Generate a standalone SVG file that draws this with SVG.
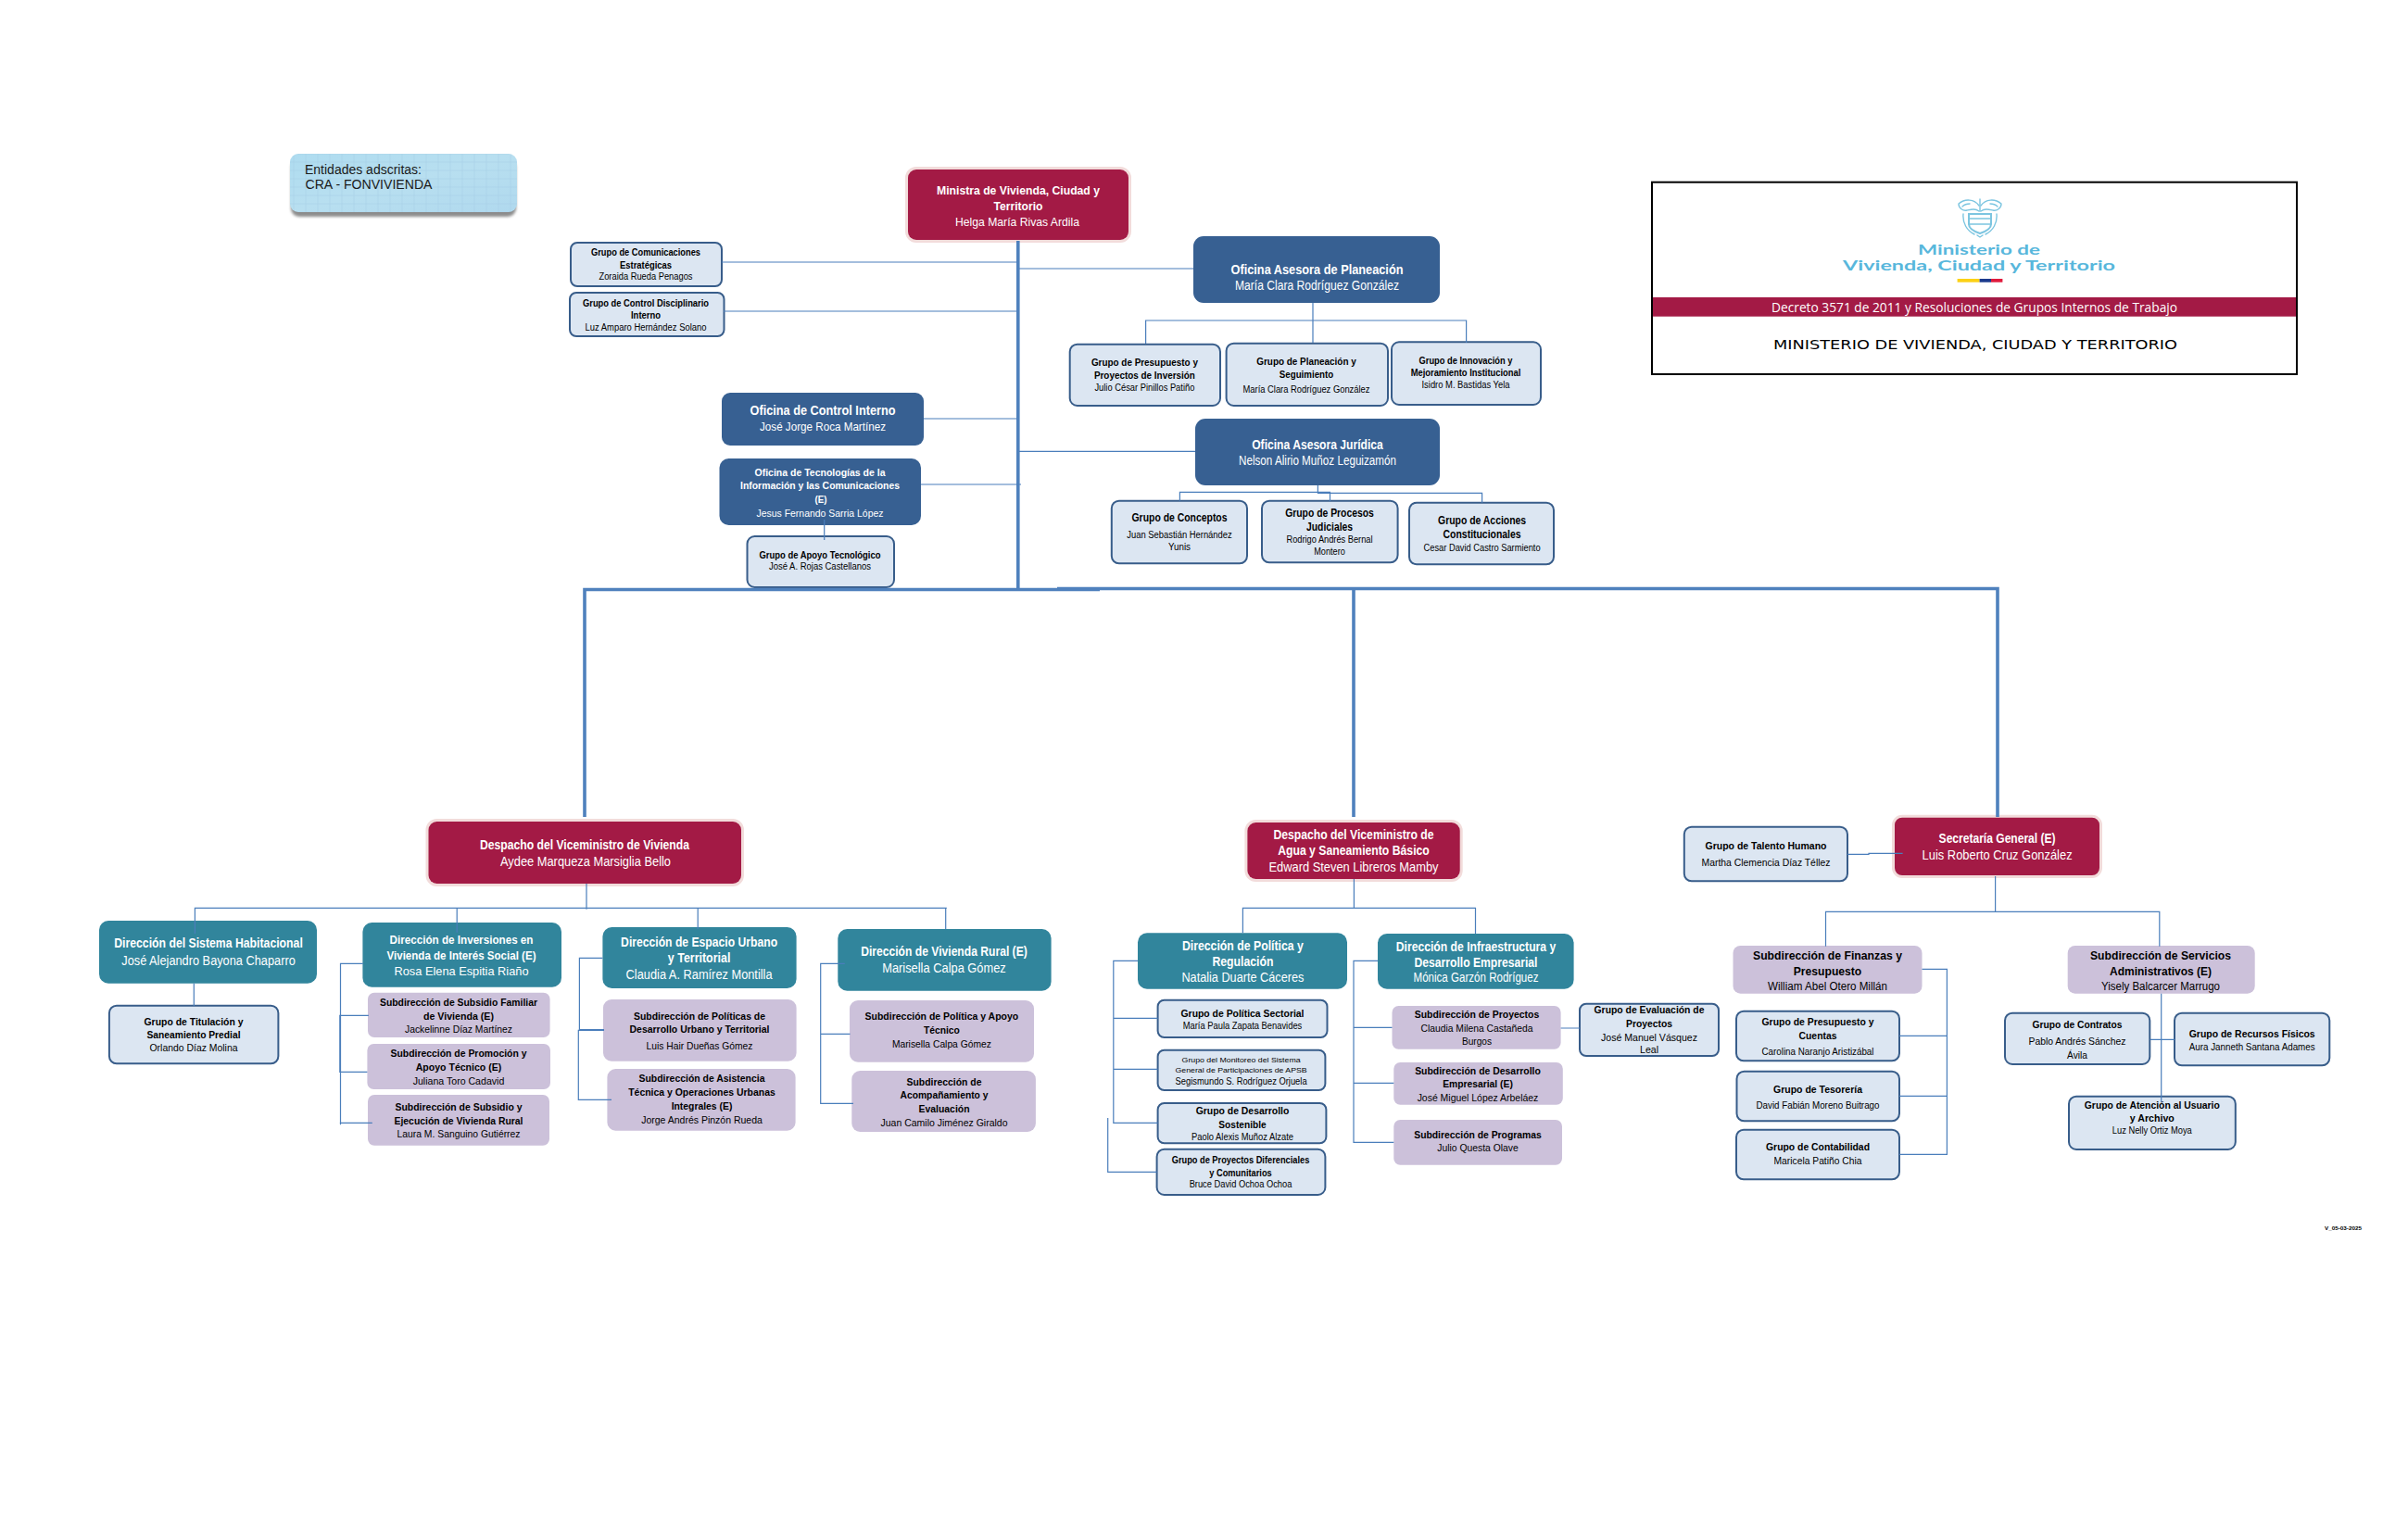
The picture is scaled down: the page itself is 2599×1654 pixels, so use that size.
<svg xmlns="http://www.w3.org/2000/svg" width="2599" height="1654" viewBox="0 0 2599 1654">
<style>
text{font-family:"Liberation Sans",Arial,sans-serif;text-anchor:middle;fill:#000}
.b{font-weight:700}
.w text{fill:#fff}
.s8{font-size:8px}.s9{font-size:9px}.s10{font-size:10px}.s11{font-size:11px}.s12{font-size:12px}.s13{font-size:13px}.s14{font-size:14px}
.red{fill:#a31a45;stroke:#f2dcdb;stroke-width:6;paint-order:stroke}
.blue{fill:#376092}
.teal{fill:#31859c}
.pur{fill:#ccc1da}
.lt{fill:#dce6f2;stroke:#385d8a;stroke-width:2}
.thin{fill:none;stroke:#4a7ebb;stroke-width:1.2}
.thick{fill:none;stroke:#4f81bd;stroke-width:3.6}
.logo{font-family:Lato,"Open Sans",sans-serif;fill:#58b7dc;font-size:16px;font-weight:700}
</style>
<defs>
<linearGradient id="ent" x1="0" y1="0" x2="1" y2="1"><stop offset="0" stop-color="#aedcf0"/><stop offset=".5" stop-color="#b8dff0"/><stop offset="1" stop-color="#b0d9ee"/></linearGradient>
<pattern id="weave" width="13" height="9" patternUnits="userSpaceOnUse"><path d="M0 4H13M5 0V9" stroke="#a2cbe6" stroke-width="1" opacity=".45" fill="none"/></pattern>
<filter id="sh" x="-5%" y="-10%" width="110%" height="130%"><feGaussianBlur stdDeviation="1.8"/></filter>
</defs>
<rect width="2599" height="1654" fill="#fff"/>

<g id="entidades">
<rect x="314" y="172" width="243" height="62" rx="9" fill="#8c8c8c" filter="url(#sh)"/>
<rect x="313" y="166" width="245" height="63" rx="9" fill="url(#ent)"/>
<rect x="313" y="166" width="245" height="63" rx="9" fill="url(#weave)"/>
<text x="392" y="188" class="s14" textLength="126" lengthAdjust="spacingAndGlyphs" style="fill:#1a1a1a">Entidades adscritas:</text>
<text x="398" y="204" class="s14" textLength="137" lengthAdjust="spacingAndGlyphs" style="fill:#1a1a1a">CRA - FONVIVIENDA</text>
</g>

<g id="ministra" class="w">
<rect class="red" x="980" y="183" width="238" height="76" rx="9"/>
<text class="b s13" x="1099" y="210" textLength="176" lengthAdjust="spacingAndGlyphs">Ministra de Vivienda, Ciudad y</text>
<text class="b s13" x="1099" y="227" textLength="53" lengthAdjust="spacingAndGlyphs">Territorio</text>
<text class="s13" x="1098" y="244" textLength="134" lengthAdjust="spacingAndGlyphs">Helga María Rivas Ardila</text>
</g>

<g id="comunicaciones">
<rect class="lt" x="616" y="262" width="163" height="47" rx="7"/>
<text class="b s10" x="697" y="276" textLength="118" lengthAdjust="spacingAndGlyphs">Grupo de Comunicaciones</text>
<text class="b s10" x="697" y="290" textLength="56" lengthAdjust="spacingAndGlyphs">Estratégicas</text>
<text class="s10" x="697" y="302" textLength="101" lengthAdjust="spacingAndGlyphs">Zoraida Rueda Penagos</text>
</g>
<g id="disciplinario">
<rect class="lt" x="615" y="316" width="166.5" height="47" rx="7"/>
<text class="b s10" x="697" y="331" textLength="136" lengthAdjust="spacingAndGlyphs">Grupo de Control Disciplinario</text>
<text class="b s10" x="697" y="344" textLength="32" lengthAdjust="spacingAndGlyphs">Interno</text>
<text class="s10" x="697" y="357" textLength="131" lengthAdjust="spacingAndGlyphs">Luz Amparo Hernández Solano</text>
</g>
<g id="control-interno" class="w">
<rect class="blue" x="779" y="424" width="218" height="57" rx="9"/>
<text class="b s14" x="888" y="448" textLength="157" lengthAdjust="spacingAndGlyphs">Oficina de Control Interno</text>
<text class="s13" x="888" y="465" textLength="136" lengthAdjust="spacingAndGlyphs">José Jorge Roca Martínez</text>
</g>
<g id="tecnologias" class="w">
<rect class="blue" x="776.5" y="495" width="217.5" height="72" rx="10"/>
<text class="b s11" x="885" y="514" textLength="141" lengthAdjust="spacingAndGlyphs">Oficina de Tecnologías de la</text>
<text class="b s11" x="885" y="528" textLength="172" lengthAdjust="spacingAndGlyphs">Información y las Comunicaciones</text>
<text class="b s11" x="886" y="543" textLength="13" lengthAdjust="spacingAndGlyphs">(E)</text>
<text class="s11" x="885" y="558" textLength="137" lengthAdjust="spacingAndGlyphs">Jesus Fernando Sarria López</text>
</g>
<g id="apoyo-tecnologico">
<rect class="lt" x="806.5" y="579" width="158.5" height="55" rx="8"/>
<text class="b s10" x="885" y="603" textLength="131" lengthAdjust="spacingAndGlyphs">Grupo de Apoyo Tecnológico</text>
<text class="s10" x="885" y="615" textLength="110" lengthAdjust="spacingAndGlyphs">José A. Rojas Castellanos</text>
</g>

<g id="planeacion" class="w">
<rect class="blue" x="1288" y="255" width="266" height="72" rx="11"/>
<text class="b s14" x="1421.5" y="296" textLength="186" lengthAdjust="spacingAndGlyphs">Oficina Asesora de Planeación</text>
<text class="s14" x="1421.5" y="313" textLength="177" lengthAdjust="spacingAndGlyphs">María Clara Rodríguez González</text>
</g>
<g id="presupuesto-inversion">
<rect class="lt" x="1154.7" y="371.7" width="162.3" height="66.3" rx="8"/>
<text class="b s10" x="1235.4" y="395" textLength="115" lengthAdjust="spacingAndGlyphs">Grupo de Presupuesto y</text>
<text class="b s10" x="1235.4" y="408.7" textLength="109" lengthAdjust="spacingAndGlyphs">Proyectos de Inversión</text>
<text class="s10" x="1235.4" y="421.7" textLength="108" lengthAdjust="spacingAndGlyphs">Julio César Pinillos Patiño</text>
</g>
<g id="planeacion-seguimiento">
<rect class="lt" x="1323.6" y="370.7" width="174.4" height="67.3" rx="8"/>
<text class="b s10" x="1410" y="394" textLength="107.5" lengthAdjust="spacingAndGlyphs">Grupo de Planeación y</text>
<text class="b s10" x="1410" y="408" textLength="58.5" lengthAdjust="spacingAndGlyphs">Seguimiento</text>
<text class="s10" x="1410" y="424" textLength="137" lengthAdjust="spacingAndGlyphs">María Clara Rodríguez González</text>
</g>
<g id="innovacion">
<rect class="lt" x="1502" y="369.3" width="161" height="67.7" rx="8"/>
<text class="b s10" x="1582" y="393" textLength="101" lengthAdjust="spacingAndGlyphs">Grupo de Innovación y</text>
<text class="b s10" x="1582" y="406" textLength="118.6" lengthAdjust="spacingAndGlyphs">Mejoramiento Institucional</text>
<text class="s10" x="1582" y="418.7" textLength="95" lengthAdjust="spacingAndGlyphs">Isidro M. Bastidas Yela</text>
</g>
<g id="juridica" class="w">
<rect class="blue" x="1290" y="452" width="264" height="72" rx="11"/>
<text class="b s14" x="1422" y="485" textLength="141.6" lengthAdjust="spacingAndGlyphs">Oficina Asesora Jurídica</text>
<text class="s14" x="1422" y="502" textLength="170" lengthAdjust="spacingAndGlyphs">Nelson Alirio Muñoz Leguizamón</text>
</g>
<g id="conceptos">
<rect class="lt" x="1199.8" y="540.7" width="146.2" height="67.6" rx="8"/>
<text class="b s12" x="1273" y="563" textLength="103" lengthAdjust="spacingAndGlyphs">Grupo de Conceptos</text>
<text class="s10" x="1273" y="580.7" textLength="113.5" lengthAdjust="spacingAndGlyphs">Juan Sebastián Hernández</text>
<text class="s10" x="1273" y="594" textLength="24" lengthAdjust="spacingAndGlyphs">Yunis</text>
</g>
<g id="procesos">
<rect class="lt" x="1362" y="540.7" width="146.6" height="66.6" rx="8"/>
<text class="b s12" x="1435" y="557.7" textLength="95.7" lengthAdjust="spacingAndGlyphs">Grupo de Procesos</text>
<text class="b s12" x="1435" y="572.7" textLength="50" lengthAdjust="spacingAndGlyphs">Judiciales</text>
<text class="s10" x="1435" y="586" textLength="93" lengthAdjust="spacingAndGlyphs">Rodrigo Andrés Bernal</text>
<text class="s10" x="1435" y="598.7" textLength="33.6" lengthAdjust="spacingAndGlyphs">Montero</text>
</g>
<g id="acciones">
<rect class="lt" x="1521" y="542.7" width="156" height="66.6" rx="8"/>
<text class="b s12" x="1599.6" y="565.7" textLength="95" lengthAdjust="spacingAndGlyphs">Grupo de Acciones</text>
<text class="b s12" x="1599.6" y="580.7" textLength="84" lengthAdjust="spacingAndGlyphs">Constitucionales</text>
<text class="s10" x="1599.6" y="594.7" textLength="126" lengthAdjust="spacingAndGlyphs">Cesar David Castro Sarmiento</text>
</g>

<g id="titulo">
<rect x="1783" y="196.7" width="696" height="207.3" fill="#fff" stroke="#000" stroke-width="2"/>
<g fill="none" stroke="#7cc5e0" stroke-width="1.4" stroke-linecap="round">
<path d="M2136 222c-5-7-15-8-22-2 0 5 5 8 9 7 5-1 9-2 13 1M2138 222c5-7 15-8 22-2 0 5-5 8-9 7-5-1-9-2-13 1"/>
<path d="M2137 215v13M2118 223c2-2 5-3 8-3M2156 223c-2-2-5-3-8-3"/>
<path d="M2125 231h24v11c0 5-6 8-12 10-6-2-12-5-12-10z" stroke-width="2"/>
<path d="M2125 236h24M2125 242h24"/>
<path d="M2119 231c-1 10 4 18 12 22M2155 231c1 10-4 18-12 22M2134 254l3 2 3-2"/>
</g>
<text class="logo" x="2136" y="275" textLength="132" lengthAdjust="spacingAndGlyphs">Ministerio de</text>
<text class="logo" x="2136" y="291.7" textLength="294" lengthAdjust="spacingAndGlyphs">Vivienda, Ciudad y Territorio</text>
<rect x="2112.6" y="301" width="24" height="3.7" fill="#fcd116"/>
<rect x="2136.6" y="301" width="12.4" height="3.7" fill="#1c3a8c"/>
<rect x="2149" y="301" width="12.4" height="3.7" fill="#e01b3c"/>
<rect x="1784" y="321" width="694" height="20.7" fill="#a31a45"/>
<text x="2131" y="337" style="font-family:'Open Sans',sans-serif;fill:#fff;font-size:14px" textLength="438" lengthAdjust="spacingAndGlyphs">Decreto 3571 de 2011 y Resoluciones de Grupos Internos de Trabajo</text>
<text x="2132" y="377" style="font-family:'DejaVu Sans',sans-serif;font-size:14px" textLength="436" lengthAdjust="spacingAndGlyphs">MINISTERIO DE VIVIENDA, CIUDAD Y TERRITORIO</text>
</g>

<g id="despacho-vivienda" class="w">
<rect class="red" x="462.5" y="887" width="337.5" height="67" rx="9"/>
<text class="b s14" x="631" y="916.7" textLength="226" lengthAdjust="spacingAndGlyphs">Despacho del Viceministro de Vivienda</text>
<text class="s14" x="632" y="935" textLength="184" lengthAdjust="spacingAndGlyphs">Aydee Marqueza Marsiglia Bello</text>
</g>
<g id="sistema-habitacional" class="w">
<rect class="teal" x="107" y="994" width="235" height="67.7" rx="10"/>
<text class="b s14" x="225" y="1023" textLength="203.6" lengthAdjust="spacingAndGlyphs">Dirección del Sistema Habitacional</text>
<text class="s14" x="225" y="1041.7" textLength="187.5" lengthAdjust="spacingAndGlyphs">José Alejandro Bayona Chaparro</text>
</g>
<g id="titulacion">
<rect class="lt" x="117.9" y="1085.7" width="182.5" height="62.6" rx="8"/>
<text class="b s11" x="209" y="1106.7" textLength="107" lengthAdjust="spacingAndGlyphs">Grupo de Titulación y</text>
<text class="b s11" x="209" y="1120.7" textLength="101" lengthAdjust="spacingAndGlyphs">Saneamiento Predial</text>
<text class="s11" x="209" y="1135.3" textLength="95" lengthAdjust="spacingAndGlyphs">Orlando Díaz Molina</text>
</g>
<g id="inversiones" class="w">
<rect class="teal" x="391.4" y="996" width="214.6" height="69.7" rx="10"/>
<text class="b s13" x="498" y="1019" textLength="155" lengthAdjust="spacingAndGlyphs">Dirección de Inversiones en</text>
<text class="b s13" x="498" y="1035.7" textLength="161" lengthAdjust="spacingAndGlyphs">Vivienda de Interés Social (E)</text>
<text class="s13" x="498" y="1052.7" textLength="145" lengthAdjust="spacingAndGlyphs">Rosa Elena Espitia Riaño</text>
</g>
<g id="subsidio-familiar">
<rect class="pur" x="397" y="1071.7" width="196.6" height="48.3" rx="7"/>
<text class="b s11" x="495" y="1086" textLength="170" lengthAdjust="spacingAndGlyphs">Subdirección de Subsidio Familiar</text>
<text class="b s11" x="495" y="1101" textLength="76" lengthAdjust="spacingAndGlyphs">de Vivienda (E)</text>
<text class="s11" x="495" y="1115" textLength="116" lengthAdjust="spacingAndGlyphs">Jackelinne Díaz Martínez</text>
</g>
<g id="promocion">
<rect class="pur" x="396.4" y="1127" width="197.6" height="49" rx="7"/>
<text class="b s11" x="495" y="1141" textLength="147" lengthAdjust="spacingAndGlyphs">Subdirección de Promoción y</text>
<text class="b s11" x="495" y="1156" textLength="92.5" lengthAdjust="spacingAndGlyphs">Apoyo Técnico (E)</text>
<text class="s11" x="495" y="1171" textLength="98.6" lengthAdjust="spacingAndGlyphs">Juliana Toro Cadavid</text>
</g>
<g id="subsidio-rural">
<rect class="pur" x="397" y="1182" width="196" height="54.7" rx="7"/>
<text class="b s11" x="495" y="1199" textLength="137" lengthAdjust="spacingAndGlyphs">Subdirección de Subsidio y</text>
<text class="b s11" x="495" y="1214" textLength="139" lengthAdjust="spacingAndGlyphs">Ejecución de Vivienda Rural</text>
<text class="s11" x="495" y="1228" textLength="133" lengthAdjust="spacingAndGlyphs">Laura M. Sanguino Gutiérrez</text>
</g>
<g id="espacio-urbano" class="w">
<rect class="teal" x="650.4" y="1001" width="209.2" height="66" rx="10"/>
<text class="b s14" x="754.6" y="1021.7" textLength="169" lengthAdjust="spacingAndGlyphs">Dirección de Espacio Urbano</text>
<text class="b s14" x="754.6" y="1039" textLength="67.5" lengthAdjust="spacingAndGlyphs">y Territorial</text>
<text class="s14" x="754.6" y="1056.7" textLength="158" lengthAdjust="spacingAndGlyphs">Claudia A. Ramírez Montilla</text>
</g>
<g id="politicas-desarrollo">
<rect class="pur" x="651" y="1079" width="208.6" height="66.7" rx="9"/>
<text class="b s11" x="755" y="1100.7" textLength="142" lengthAdjust="spacingAndGlyphs">Subdirección de Políticas de</text>
<text class="b s11" x="755" y="1115" textLength="151" lengthAdjust="spacingAndGlyphs">Desarrollo Urbano y Territorial</text>
<text class="s11" x="755" y="1133" textLength="115" lengthAdjust="spacingAndGlyphs">Luis Hair Dueñas Gómez</text>
</g>
<g id="asistencia">
<rect class="pur" x="655.4" y="1154" width="203.2" height="66.7" rx="9"/>
<text class="b s11" x="757.5" y="1167.7" textLength="136" lengthAdjust="spacingAndGlyphs">Subdirección de Asistencia</text>
<text class="b s11" x="757.5" y="1182.7" textLength="158.6" lengthAdjust="spacingAndGlyphs">Técnica y Operaciones Urbanas</text>
<text class="b s11" x="757.5" y="1198" textLength="65.7" lengthAdjust="spacingAndGlyphs">Integrales (E)</text>
<text class="s11" x="757.5" y="1212.7" textLength="130.7" lengthAdjust="spacingAndGlyphs">Jorge Andrés Pinzón Rueda</text>
</g>
<g id="vivienda-rural" class="w">
<rect class="teal" x="904.3" y="1003" width="230.3" height="66.7" rx="10"/>
<text class="b s14" x="1019" y="1032.3" textLength="179.6" lengthAdjust="spacingAndGlyphs">Dirección de Vivienda Rural (E)</text>
<text class="s14" x="1019" y="1050.3" textLength="133.6" lengthAdjust="spacingAndGlyphs">Marisella Calpa Gómez</text>
</g>
<g id="politica-apoyo">
<rect class="pur" x="917" y="1080" width="199" height="66.7" rx="9"/>
<text class="b s11" x="1016.4" y="1100.7" textLength="165.7" lengthAdjust="spacingAndGlyphs">Subdirección de Política y Apoyo</text>
<text class="b s11" x="1016.4" y="1115.7" textLength="39" lengthAdjust="spacingAndGlyphs">Técnico</text>
<text class="s11" x="1016.4" y="1130.7" textLength="107" lengthAdjust="spacingAndGlyphs">Marisella Calpa Gómez</text>
</g>
<g id="acompanamiento">
<rect class="pur" x="919.3" y="1156" width="198.6" height="66" rx="9"/>
<text class="b s11" x="1019" y="1171.7" textLength="81" lengthAdjust="spacingAndGlyphs">Subdirección de</text>
<text class="b s11" x="1019" y="1186" textLength="95" lengthAdjust="spacingAndGlyphs">Acompañamiento y</text>
<text class="b s11" x="1019" y="1200.7" textLength="55" lengthAdjust="spacingAndGlyphs">Evaluación</text>
<text class="s11" x="1019" y="1215.7" textLength="137" lengthAdjust="spacingAndGlyphs">Juan Camilo Jiménez Giraldo</text>
</g>

<g id="despacho-agua" class="w">
<rect class="red" x="1346.4" y="888" width="229.3" height="61" rx="9"/>
<text class="b s14" x="1461" y="905.7" textLength="173" lengthAdjust="spacingAndGlyphs">Despacho del Viceministro de</text>
<text class="b s14" x="1461" y="922.7" textLength="163.6" lengthAdjust="spacingAndGlyphs">Agua y Saneamiento Básico</text>
<text class="s14" x="1461" y="940.7" textLength="183" lengthAdjust="spacingAndGlyphs">Edward Steven Libreros Mamby</text>
</g>
<g id="politica-regulacion" class="w">
<rect class="teal" x="1228" y="1007.3" width="226" height="60.4" rx="10"/>
<text class="b s14" x="1341.4" y="1025.7" textLength="131" lengthAdjust="spacingAndGlyphs">Dirección de Política y</text>
<text class="b s14" x="1341.4" y="1043" textLength="66" lengthAdjust="spacingAndGlyphs">Regulación</text>
<text class="s14" x="1341.4" y="1060" textLength="132" lengthAdjust="spacingAndGlyphs">Natalia Duarte Cáceres</text>
</g>
<g id="infraestructura" class="w">
<rect class="teal" x="1487" y="1008" width="211.6" height="59.7" rx="10"/>
<text class="b s14" x="1593" y="1026.7" textLength="172.5" lengthAdjust="spacingAndGlyphs">Dirección de Infraestructura y</text>
<text class="b s14" x="1593" y="1043.7" textLength="133" lengthAdjust="spacingAndGlyphs">Desarrollo Empresarial</text>
<text class="s14" x="1593" y="1060.3" textLength="135" lengthAdjust="spacingAndGlyphs">Mónica Garzón Rodríguez</text>
</g>
<g id="politica-sectorial">
<rect class="lt" x="1249.6" y="1079.7" width="182.9" height="40.3" rx="7"/>
<text class="b s11" x="1341" y="1098.3" textLength="133" lengthAdjust="spacingAndGlyphs">Grupo de Política Sectorial</text>
<text class="s11" x="1341" y="1111" textLength="128.6" lengthAdjust="spacingAndGlyphs">María Paula Zapata Benavides</text>
</g>
<g id="monitoreo">
<rect class="lt" x="1249.6" y="1133.7" width="180.8" height="43.3" rx="7"/>
<text class="s8" x="1339.6" y="1147" textLength="128" lengthAdjust="spacingAndGlyphs">Grupo del Monitoreo del Sistema</text>
<text class="s8" x="1339.6" y="1158" textLength="142" lengthAdjust="spacingAndGlyphs">General de Participaciones de APSB</text>
<text class="s10" x="1339.6" y="1170.7" textLength="142" lengthAdjust="spacingAndGlyphs">Segismundo S. Rodríguez Orjuela</text>
</g>
<g id="desarrollo-sostenible">
<rect class="lt" x="1249.6" y="1191" width="181.8" height="43.3" rx="7"/>
<text class="b s11" x="1341" y="1202.7" textLength="100.7" lengthAdjust="spacingAndGlyphs">Grupo de Desarrollo</text>
<text class="b s11" x="1341" y="1217.7" textLength="51.4" lengthAdjust="spacingAndGlyphs">Sostenible</text>
<text class="s10" x="1341" y="1231" textLength="110" lengthAdjust="spacingAndGlyphs">Paolo Alexis Muñoz Alzate</text>
</g>
<g id="proyectos-diferenciales">
<rect class="lt" x="1248.6" y="1240.7" width="181.8" height="49.3" rx="8"/>
<text class="b s10" x="1339" y="1255.7" textLength="148.6" lengthAdjust="spacingAndGlyphs">Grupo de Proyectos Diferenciales</text>
<text class="b s10" x="1339" y="1270" textLength="67.5" lengthAdjust="spacingAndGlyphs">y Comunitarios</text>
<text class="s10" x="1339" y="1281.7" textLength="110.7" lengthAdjust="spacingAndGlyphs">Bruce David Ochoa Ochoa</text>
</g>
<g id="proyectos">
<rect class="pur" x="1502.5" y="1086" width="182.1" height="46.7" rx="7"/>
<text class="b s11" x="1594" y="1098.7" textLength="134.6" lengthAdjust="spacingAndGlyphs">Subdirección de Proyectos</text>
<text class="s11" x="1594" y="1113.7" textLength="121" lengthAdjust="spacingAndGlyphs">Claudia Milena Castañeda</text>
<text class="s11" x="1594" y="1127.7" textLength="32" lengthAdjust="spacingAndGlyphs">Burgos</text>
</g>
<g id="evaluacion">
<rect class="lt" x="1705" y="1083.7" width="150" height="56.3" rx="7"/>
<text class="b s11" x="1780" y="1093.7" textLength="119" lengthAdjust="spacingAndGlyphs">Grupo de Evaluación de</text>
<text class="b s11" x="1780" y="1108.7" textLength="50" lengthAdjust="spacingAndGlyphs">Proyectos</text>
<text class="s11" x="1780" y="1123.7" textLength="104" lengthAdjust="spacingAndGlyphs">José Manuel Vásquez</text>
<text class="s11" x="1780" y="1137" textLength="20" lengthAdjust="spacingAndGlyphs">Leal</text>
</g>
<g id="desarrollo-empresarial">
<rect class="pur" x="1504.3" y="1147" width="182.5" height="45.7" rx="7"/>
<text class="b s11" x="1595" y="1160" textLength="135.7" lengthAdjust="spacingAndGlyphs">Subdirección de Desarrollo</text>
<text class="b s11" x="1595" y="1174.3" textLength="75.7" lengthAdjust="spacingAndGlyphs">Empresarial (E)</text>
<text class="s11" x="1595" y="1189" textLength="130.7" lengthAdjust="spacingAndGlyphs">José Miguel López Arbeláez</text>
</g>
<g id="programas">
<rect class="pur" x="1504.3" y="1209" width="181.7" height="48.7" rx="7"/>
<text class="b s11" x="1595" y="1229" textLength="137.5" lengthAdjust="spacingAndGlyphs">Subdirección de Programas</text>
<text class="s11" x="1595" y="1242.7" textLength="87.5" lengthAdjust="spacingAndGlyphs">Julio Questa Olave</text>
</g>

<g id="talento">
<rect class="lt" x="1817.8" y="892.7" width="176.2" height="58.6" rx="8"/>
<text class="b s11" x="1906" y="917.3" textLength="131" lengthAdjust="spacingAndGlyphs">Grupo de Talento Humano</text>
<text class="s11" x="1906" y="935.3" textLength="139" lengthAdjust="spacingAndGlyphs">Martha Clemencia Díaz Téllez</text>
</g>
<g id="secretaria" class="w">
<rect class="red" x="2045" y="882.7" width="221" height="62.3" rx="8"/>
<text class="b s14" x="2155.6" y="910" textLength="126" lengthAdjust="spacingAndGlyphs">Secretaría General (E)</text>
<text class="s14" x="2155.6" y="927.7" textLength="162" lengthAdjust="spacingAndGlyphs">Luis Roberto Cruz González</text>
</g>
<g id="finanzas">
<rect class="pur" x="1870.5" y="1021" width="204" height="51.7" rx="8"/>
<text class="b s13" x="1972.5" y="1035.7" textLength="161" lengthAdjust="spacingAndGlyphs">Subdirección de Finanzas y</text>
<text class="b s13" x="1972.5" y="1052.7" textLength="73.6" lengthAdjust="spacingAndGlyphs">Presupuesto</text>
<text class="s12" x="1972.5" y="1068.7" textLength="129" lengthAdjust="spacingAndGlyphs">William Abel Otero Millán</text>
</g>
<g id="presupuesto-cuentas">
<rect class="lt" x="1874" y="1091.7" width="176" height="53.6" rx="8"/>
<text class="b s11" x="1962" y="1106.7" textLength="121" lengthAdjust="spacingAndGlyphs">Grupo de Presupuesto y</text>
<text class="b s11" x="1962" y="1121.7" textLength="41" lengthAdjust="spacingAndGlyphs">Cuentas</text>
<text class="s11" x="1962" y="1138.7" textLength="121" lengthAdjust="spacingAndGlyphs">Carolina Naranjo Aristizábal</text>
</g>
<g id="tesoreria">
<rect class="lt" x="1874.5" y="1156.7" width="175.5" height="53.6" rx="8"/>
<text class="b s11" x="1962" y="1179.7" textLength="96" lengthAdjust="spacingAndGlyphs">Grupo de Tesorería</text>
<text class="s11" x="1962" y="1196.7" textLength="133" lengthAdjust="spacingAndGlyphs">David Fabián Moreno Buitrago</text>
</g>
<g id="contabilidad">
<rect class="lt" x="1874" y="1219.7" width="176" height="53.6" rx="8"/>
<text class="b s11" x="1962" y="1241.7" textLength="112" lengthAdjust="spacingAndGlyphs">Grupo de Contabilidad</text>
<text class="s11" x="1962" y="1256.7" textLength="95" lengthAdjust="spacingAndGlyphs">Maricela Patiño Chia</text>
</g>
<g id="servicios">
<rect class="pur" x="2231.7" y="1021" width="202" height="51.7" rx="8"/>
<text class="b s13" x="2332" y="1035.7" textLength="152" lengthAdjust="spacingAndGlyphs">Subdirección de Servicios</text>
<text class="b s13" x="2332" y="1052.7" textLength="110" lengthAdjust="spacingAndGlyphs">Administrativos (E)</text>
<text class="s12" x="2332" y="1068.7" textLength="128" lengthAdjust="spacingAndGlyphs">Yisely Balcarcer Marrugo</text>
</g>
<g id="contratos">
<rect class="lt" x="2164" y="1093.7" width="156.3" height="55.3" rx="8"/>
<text class="b s11" x="2242" y="1110" textLength="97" lengthAdjust="spacingAndGlyphs">Grupo de Contratos</text>
<text class="s11" x="2242" y="1127.7" textLength="105" lengthAdjust="spacingAndGlyphs">Pablo Andrés Sánchez</text>
<text class="s11" x="2242" y="1142.7" textLength="22" lengthAdjust="spacingAndGlyphs">Ávila</text>
</g>
<g id="recursos">
<rect class="lt" x="2347" y="1093.7" width="167.3" height="56.6" rx="8"/>
<text class="b s11" x="2430.7" y="1119.7" textLength="136" lengthAdjust="spacingAndGlyphs">Grupo de Recursos Físicos</text>
<text class="s10" x="2430.7" y="1134" textLength="136" lengthAdjust="spacingAndGlyphs">Aura Janneth Santana Adames</text>
</g>
<g id="atencion">
<rect class="lt" x="2233" y="1183.7" width="179.8" height="57.3" rx="8"/>
<text class="b s11" x="2322.8" y="1196.7" textLength="146" lengthAdjust="spacingAndGlyphs">Grupo de Atención al Usuario</text>
<text class="b s11" x="2322.8" y="1210.7" textLength="48" lengthAdjust="spacingAndGlyphs">y Archivo</text>
<text class="s10" x="2322.8" y="1224.3" textLength="86" lengthAdjust="spacingAndGlyphs">Luz Nelly Ortiz Moya</text>
</g>
<g id="version">
<text class="b" style="font-size:5.5px" x="2529" y="1328" textLength="40" lengthAdjust="spacingAndGlyphs">V_05-03-2025</text>
</g>

<g id="connectors">
<path class="thick" d="M1098.8 260V637M631 636.5H1187M1141 635.5H2157.8M631 634.7V882M1461 635.5V882M2156 635.5V882"/>
<path class="thin" d="M779 283H1097M781 336H1097M997 452H1097M994 523H1102M889.7 561V583"/>
<path class="thin" d="M1100 290H1288M1100 487.3H1290M1417 327V370M1236.6 371V346H1582.6V370M1422.4 524V532.3H1599.6V542.7M1273.4 540.7V531.3H1435.5V541"/>
<path class="thin" d="M633 954V981.7M210.4 1008V980.3H1021.8M209.3 1061.7V1086M493.2 980.3V1006.7M753.2 980.3V1003M1020.7 980.3V1003"/>
<path class="thin" d="M391.8 1040.3H367.5V1214.3M397.9 1096.3H366.8V1157.3H396.4M366.8 1212.3H401.8"/>
<path class="thin" d="M650.4 1034.3H625.4V1111.7H652M660 1187.3H624.3V1112.3H652"/>
<path class="thin" d="M911.8 1040.3H885.7V1191.3H921M885.7 1116.3H917.5"/>
<path class="thin" d="M1461.4 949V980.3M1341.4 1007.3V980.3H1592.5V1008M1228 1037.3H1201.8V1212.3H1249.6M1201.8 1099.3H1249.6M1201.8 1154.3H1249.6M1248.6 1265.3H1195.7V1207"/>
<path class="thin" d="M1487 1037.3H1461V1233.3H1504.3M1461 1109.3H1502.5M1461 1169.3H1504.3M1684.6 1110H1705"/>
<path class="thin" d="M1994 922.3H2017V921.3H2053.6M2153.6 946V984.3M1970.5 1021.7V984.3H2330.8V1021.7"/>
<path class="thin" d="M2074.5 1046.3H2101.4V1246.3H2050M2050 1118.3H2101.4M2050 1183.3H2101.4"/>
<path class="thin" d="M2332.7 1072.7V1190M2320.8 1122.3H2347.2"/>
</g>
</svg>
